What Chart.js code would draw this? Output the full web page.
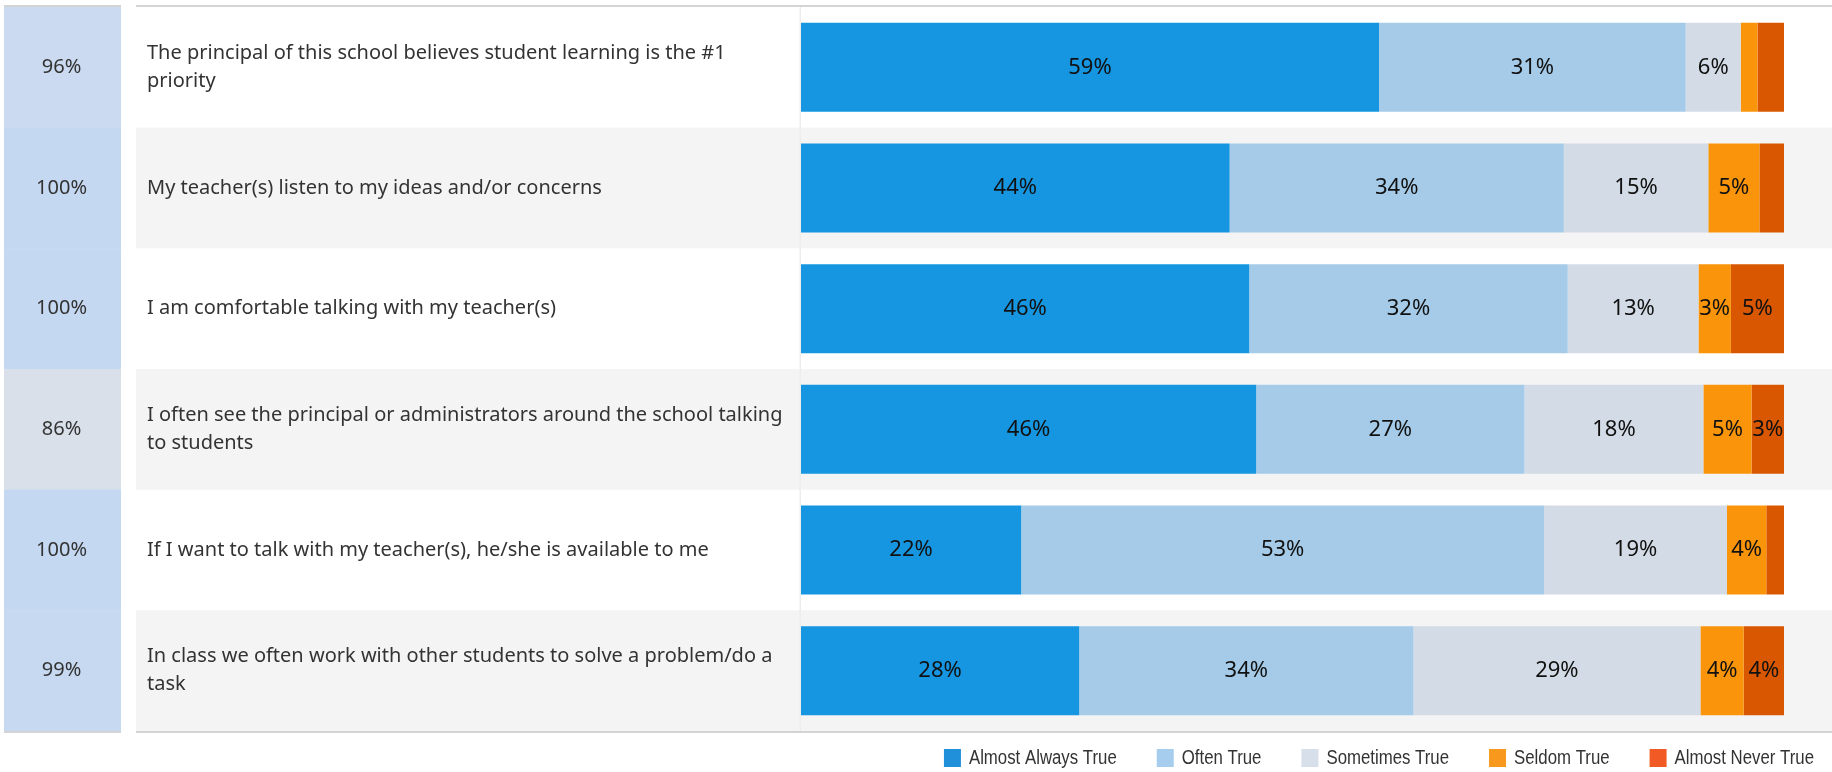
<!DOCTYPE html>
<html>
<head>
<meta charset="utf-8">
<script src="https://cdn.jsdelivr.net/npm/chart.js@4.4.1/dist/chart.umd.min.js"></script>
<style>
  html, body { margin: 0; padding: 0; background: #fff; overflow: hidden; }
  #wrap { width: 1832px; height: 772px; }
</style>
</head>
<body>
<div id="wrap"><canvas id="surveyChart" width="1832" height="772"></canvas></div>
<script>
// questions (wrapped the way the report wraps them)
const questions = [
  ['The principal of this school believes student learning is the #1', 'priority'],
  ['My teacher(s) listen to my ideas and/or concerns'],
  ['I am comfortable talking with my teacher(s)'],
  ['I often see the principal or administrators around the school talking', 'to students'],
  ['If I want to talk with my teacher(s), he/she is available to me'],
  ['In class we often work with other students to solve a problem/do a', 'task']
];
const favorable = [96, 100, 100, 86, 100, 99];

const seriesNames = ['Almost Always True', 'Often True', 'Sometimes True', 'Seldom True', 'Almost Never True'];
const almostAlways = [58.8, 43.6, 45.6, 46.3, 22.4, 28.3];
const often = [31.2, 34.0, 32.4, 27.3, 53.2, 34.0];
const sometimes = [5.6, 14.7, 13.3, 18.2, 18.6, 29.2];
const seldom = [1.7, 5.2, 3.3, 4.9, 4.0, 4.4];
const almostNever = [2.7, 2.5, 5.4, 3.3, 1.8, 4.1];

const barColors = ['#1696e1', '#a5cbe8', '#d3dce6', '#fa950b', '#d95700'];
const legendColors = ['#2190da', '#a6cdee', '#d7e0ea', '#f8991d', '#f15a24'];
const textFont = '"Noto Sans"';

// left column shade goes from greyish (86%) to blue (100%)
function pctColor(v) {
  const t = Math.max(0, Math.min(1, (v - 86) / 14));
  const lo = [217, 224, 234], hi = [197, 216, 242];
  const c = lo.map((l, k) => Math.round(l + (hi[k] - l) * t));
  return 'rgb(' + c.join(',') + ')';
}

// y axes: fixed width, and no extra room above/below for the labels
function fixAxis(width) {
  return s => {
    s.width = width;
    s.paddingTop = 0;
    s.paddingBottom = 0;
  };
}

const panels = {
  id: 'panels',
  beforeDraw(chart) {
    const {ctx, chartArea, scales} = chart;
    const band = (chartArea.bottom - chartArea.top) / questions.length;
    ctx.save();
    questions.forEach((q, i) => {
      const top = scales.y.getPixelForValue(i) - band / 2;
      ctx.fillStyle = pctColor(favorable[i]);
      ctx.fillRect(4, top, 117, band + 0.5);
      ctx.fillStyle = i % 2 ? '#f4f4f4' : '#ffffff';
      ctx.fillRect(136, top, chart.width - 136, band + 0.5);
    });
    // top / bottom rules
    ctx.fillStyle = '#d4d4d4';
    [chartArea.top - 2, chartArea.bottom].forEach(yy => {
      ctx.fillRect(4, yy, 117, 2);
      ctx.fillRect(136, yy, chart.width - 136, 2);
    });
    // divider between text and bars
    ctx.fillStyle = '#ededed';
    ctx.fillRect(chartArea.left - 1.5, chartArea.top, 1.5, chartArea.bottom - chartArea.top);
    ctx.restore();
  }
};

const barLabels = {
  id: 'barLabels',
  afterDatasetsDraw(chart) {
    const {ctx} = chart;
    ctx.save();
    ctx.font = '22px ' + textFont;
    ctx.fillStyle = '#111';
    ctx.textAlign = 'center';
    ctx.textBaseline = 'middle';
    chart.data.datasets.forEach((ds, di) => {
      chart.getDatasetMeta(di).data.forEach((bar, i) => {
        if (Math.abs(bar.x - bar.base) < 30) return;
        ctx.fillText(Math.round(ds.data[i]) + '%', (bar.x + bar.base) / 2, bar.y);
      });
    });
    ctx.restore();
  }
};

// legend at bottom right, laid out from the right edge (condensed text)
const rightLegend = {
  id: 'rightLegend',
  afterDraw(chart) {
    const {ctx} = chart;
    const squeeze = 0.84;
    ctx.save();
    ctx.font = '20px "Liberation Sans", Arial, sans-serif';
    ctx.textBaseline = 'middle';
    ctx.textAlign = 'left';
    let x = 1814;
    const cy = 758;
    for (let i = seriesNames.length - 1; i >= 0; i--) {
      const w = ctx.measureText(seriesNames[i]).width * squeeze;
      const tx = x - w;
      ctx.save();
      ctx.translate(tx, cy);
      ctx.scale(squeeze, 1);
      ctx.fillStyle = '#333';
      ctx.fillText(seriesNames[i], 0, 0);
      ctx.restore();
      ctx.fillStyle = legendColors[i];
      ctx.fillRect(tx - 25, cy - 9, 17, 18);
      x = tx - 25 - 40;
    }
    ctx.restore();
  }
};

const seriesData = [almostAlways, often, sometimes, seldom, almostNever];

new Chart(document.getElementById('surveyChart'), {
  type: 'bar',
  data: {
    labels: questions,
    datasets: seriesNames.map((name, k) => ({
      label: name,
      data: seriesData[k],
      backgroundColor: barColors[k],
      borderWidth: 0,
      categoryPercentage: 1,
      barPercentage: 0.737
    }))
  },
  options: {
    indexAxis: 'y',
    responsive: false,
    animation: false,
    devicePixelRatio: 1,
    layout: { padding: { top: 7, bottom: 41 } },
    plugins: {
      legend: { display: false },
      tooltip: { enabled: false }
    },
    scales: {
      x: { stacked: true, min: 0, max: 100, display: false },
      y: {
        stacked: true,
        position: 'left',
        weight: 0,
        grid: { display: false, drawTicks: false },
        border: { display: false },
        ticks: {
          crossAlign: 'far',
          padding: 0,
          color: '#333',
          font: { family: textFont, size: 20, lineHeight: 1.4 }
        },
        afterFit: fixAxis(654)
      },
      yPct: {
        type: 'category',
        labels: favorable.map(v => v + '%'),
        offset: true,
        position: 'left',
        weight: 1,
        grid: { display: false, drawTicks: true, tickLength: 60 },
        border: { display: false },
        ticks: {
          crossAlign: 'center',
          padding: 0,
          color: '#333',
          font: { family: textFont, size: 20 }
        },
        afterFit: fixAxis(147)
      },
      yRight: {
        type: 'category',
        labels: questions.map(() => ''),
        position: 'right',
        grid: { display: false, drawTicks: false },
        border: { display: false },
        ticks: { display: false, padding: 0 },
        afterFit: fixAxis(48)
      }
    }
  },
  plugins: [panels, barLabels, rightLegend]
});
</script>
</body>
</html>
